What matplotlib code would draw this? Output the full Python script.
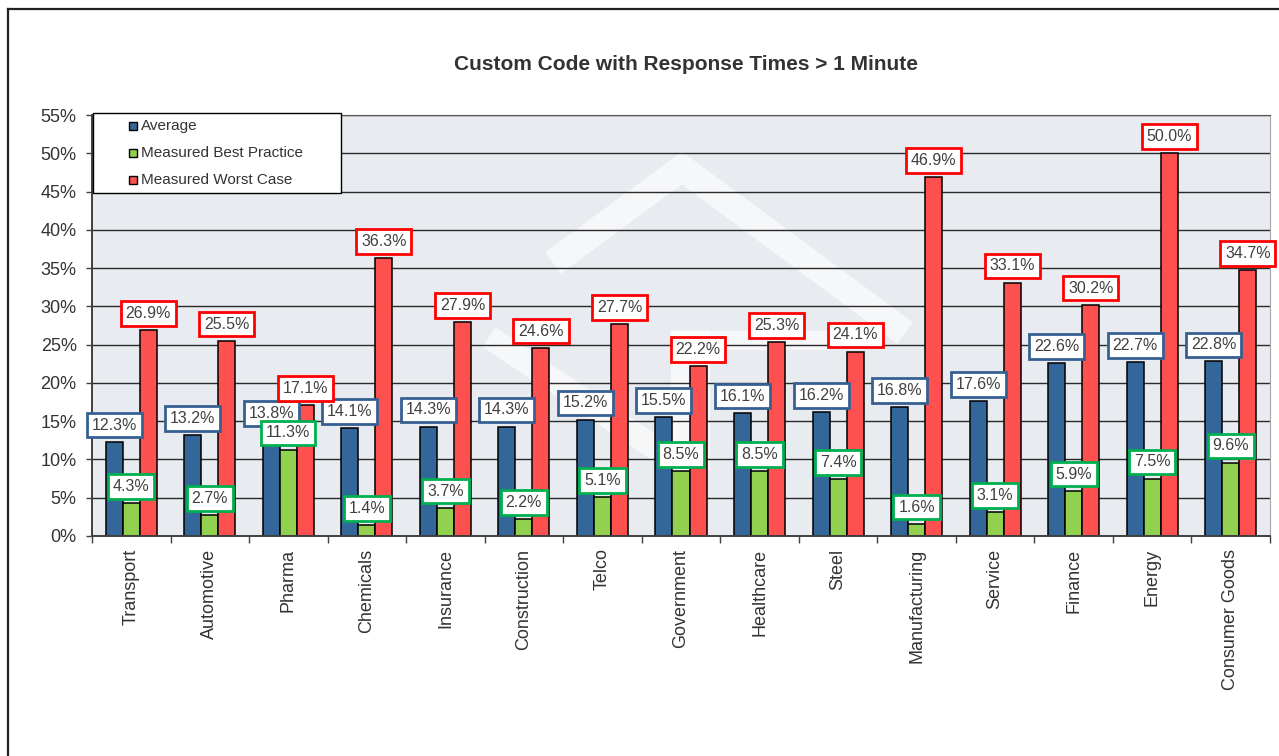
import matplotlib
matplotlib.use("Agg")
import matplotlib.pyplot as plt
from matplotlib.patches import Rectangle
from matplotlib.lines import Line2D
from matplotlib.transforms import Affine2D
import numpy as np

plt.rcParams['font.family'] = ['Liberation Sans', 'DejaVu Sans']

categories = ["Transport", "Automotive", "Pharma", "Chemicals", "Insurance",
              "Construction", "Telco", "Government", "Healthcare", "Steel",
              "Manufacturing", "Service", "Finance", "Energy", "Consumer Goods"]
average = [12.3, 13.2, 13.8, 14.1, 14.3, 14.3, 15.2, 15.5, 16.1, 16.2, 16.8, 17.6, 22.6, 22.7, 22.8]
best_practice = [4.3, 2.7, 11.3, 1.4, 3.7, 2.2, 5.1, 8.5, 8.5, 7.4, 1.6, 3.1, 5.9, 7.5, 9.6]
worst_case = [26.9, 25.5, 17.1, 36.3, 27.9, 24.6, 27.7, 22.2, 25.3, 24.1, 46.9, 33.1, 30.2, 50.0, 34.7]
series_names = ["Average", "Measured Best Practice", "Measured Worst Case"]
title = "Custom Code with Response Times > 1 Minute"
y_ticks = [0, 5, 10, 15, 20, 25, 30, 35, 40, 45, 50, 55]

bar_colors = ["#336699", "#92D050", "#FF5050"]
label_edges = ["#376092", "#00B050", "#FF0000"]
text_color = "#404040"

W, H = 1279, 756
fig = plt.figure(figsize=(W / 100, H / 100), dpi=100)
fig.patch.set_facecolor("white")

# pixel coordinates measured from the top-left corner of the figure
px = Affine2D().scale(1 / W, -1 / H).translate(0, 1) + fig.transFigure

ax = fig.add_axes([92 / W, (H - 536) / H, (1270 - 92) / W, (536 - 115) / H])
ax.set_facecolor("#E8EBEF")

# faint watermark behind the grid
wm = dict(color="white", alpha=0.65, solid_capstyle="butt", solid_joinstyle="miter",
          transform=px, zorder=0.3)
ax.add_line(Line2D([553, 682, 905], [263, 168, 333], lw=19, **wm))
ax.add_line(Line2D([489, 700], [337, 478], lw=17, **wm))
ax.add_line(Line2D([690, 690], [330, 470], lw=28, **wm))
ax.add_line(Line2D([670, 830], [340, 340], lw=14, **wm))

x = np.arange(len(categories))
bw = 0.217
offsets = [-bw, 0, bw]
series = [average, best_practice, worst_case]

for i, (vals, off) in enumerate(zip(series, offsets)):
    ax.bar(x + off, vals, width=bw, color=bar_colors[i], edgecolor="black",
           linewidth=1.1, zorder=2)

for i, (vals, off) in enumerate(zip(series, offsets)):
    for xi, v in zip(x, vals):
        ax.annotate(f"{v:.1f}%", (xi + off, v), xytext=(0, 12),
                    textcoords="offset points", ha="center", va="center",
                    fontsize=11.5, color=text_color, zorder=5 + i,
                    bbox=dict(boxstyle="square,pad=0.3", fc="white",
                              ec=label_edges[i], lw=2.0))

for t in y_ticks:
    ax.axhline(t, color="#2a2a2a", lw=1.0, zorder=1)

ax.set_xlim(-0.5, len(categories) - 0.5)
ax.set_ylim(0, 55)
ax.set_yticks(y_ticks)
ax.set_yticklabels([f"{t}%" for t in y_ticks])
ax.tick_params(axis="y", length=4, width=1, color="#404040", pad=7,
               labelsize=13, labelcolor="#333333")

ax.set_xticks(np.arange(len(categories) + 1) - 0.5)
ax.set_xticklabels([])
ax.set_xticks(x, minor=True)
ax.set_xticklabels(categories, minor=True, rotation=90, fontsize=13,
                   color="#333333", va="top")
ax.tick_params(axis="x", which="major", length=5, width=1, color="#404040")
ax.tick_params(axis="x", which="minor", length=0, pad=9)

for side in ["left", "bottom"]:
    ax.spines[side].set_color("#404040")
    ax.spines[side].set_linewidth(1.4)
ax.spines["right"].set_color("#A8A8A8")
ax.spines["top"].set_color("#555555")

# legend box
fig.add_artist(Rectangle((93, 113), 248, 80, transform=px, fc="white",
                         ec="black", lw=1.0, zorder=10))
for k, name in enumerate(series_names):
    yc = 126 + 27 * k
    fig.add_artist(Rectangle((129, yc - 4), 8, 8, transform=px, fc=bar_colors[k],
                             ec="black", lw=1.0, zorder=11))
    fig.text(141 / W, 1 - yc / H, name, fontsize=11, color="#333333",
             va="center", ha="left", zorder=12)

fig.text(686 / W, 1 - 64 / H, title, fontsize=15, fontweight="bold",
         color="#333333", ha="center", va="center")

# outer frame
fig.add_artist(Line2D([7.5, W], [8.5, 8.5], transform=px, color="#222222", lw=1.6))
fig.add_artist(Line2D([7.5, 7.5], [8.5, H], transform=px, color="#222222", lw=1.6))

fig.savefig("out.png", dpi=100)
